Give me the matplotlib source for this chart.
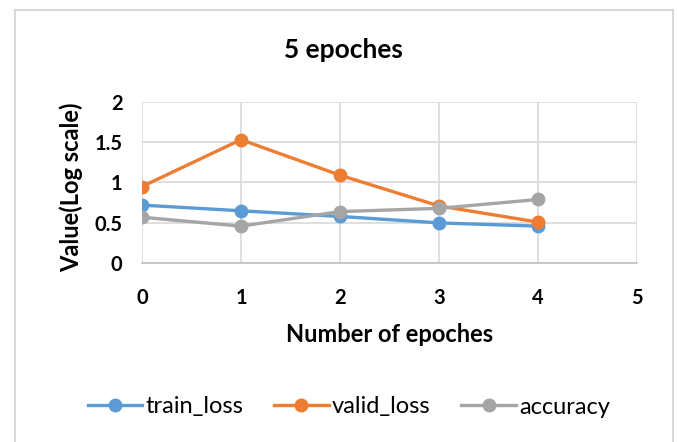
import matplotlib
matplotlib.use("Agg")
import matplotlib.pyplot as plt
from matplotlib.patches import Rectangle

epochs = [0, 1, 2, 3, 4]
train_loss = [0.72, 0.65, 0.58, 0.50, 0.46]
valid_loss = [0.95, 1.53, 1.09, 0.71, 0.51]
accuracy = [0.57, 0.46, 0.64, 0.68, 0.79]
series_names = ["train_loss", "valid_loss", "accuracy"]
colors = ["#5B9BD5", "#ED7D31", "#A5A5A5"]
x_ticks = [0, 1, 2, 3, 4, 5]
y_ticks = [0, 0.5, 1, 1.5, 2]
y_tick_labels = ["0", "0.5", "1", "1.5", "2"]

plt.rcParams['font.family'] = ['Lato', 'DejaVu Sans']

fig = plt.figure(figsize=(6.77, 4.42), dpi=100)
fig.patches.append(Rectangle((15/677, -0.05), (673-15)/677, 1 - 10/442 + 0.05,
                             transform=fig.transFigure, fill=False,
                             edgecolor="#d9d9d9", linewidth=1.5))
ax = fig.add_axes([142/677, 1 - 263.3/442, (637-142)/677, (263.3-101.7)/442])

for name, vals, c in zip(series_names, [train_loss, valid_loss, accuracy], colors):
    ax.plot(epochs, vals, color=c, linewidth=2.4, marker='o', markersize=9, label=name)

ax.set_xlim(0, 5)
ax.set_ylim(0, 2)
ax.set_xticks(x_ticks)
ax.set_yticks(y_ticks)
ax.set_yticklabels(y_tick_labels)
ax.grid(True, color="#d9d9d9", linewidth=1.2)
ax.set_axisbelow(True)
for s in ["top", "right", "left"]:
    ax.spines[s].set_visible(False)
ax.spines["bottom"].set_color("#bfbfbf")
ax.spines["bottom"].set_linewidth(1.2)
ax.tick_params(length=0, labelsize=14.5)
ax.tick_params(axis='y', pad=14)
ax.tick_params(axis='x', pad=18)
for lab in ax.get_xticklabels() + ax.get_yticklabels():
    lab.set_fontweight("bold")

fig.text(343/677, 1 - 50/442, "5 epoches", ha="center", va="center",
         fontsize=19, fontweight="bold")
fig.text(390/677, 1 - 334/442, "Number of epoches", ha="center", va="center",
         fontsize=17, fontweight="bold")
fig.text(71/677, 1 - 187/442, "Value(Log scale)", ha="center", va="center",
         rotation=90, fontsize=17, fontweight="bold")

fig.legend(loc="center", bbox_to_anchor=(349/677, 1 - 407/442), ncol=3,
           frameon=False, fontsize=17, handlelength=2.3, handletextpad=0.15,
           columnspacing=1.3)

fig.savefig("out.png", dpi=100)
